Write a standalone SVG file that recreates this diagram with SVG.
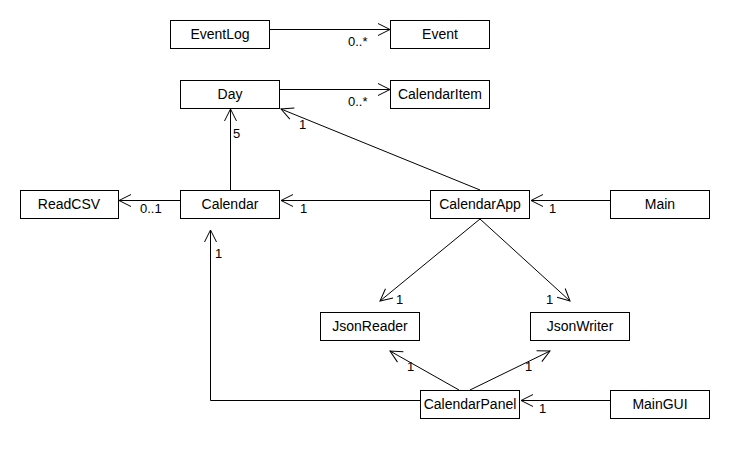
<svg xmlns="http://www.w3.org/2000/svg" width="730" height="450" viewBox="0 0 730 450">
<style>
.box{fill:#fff;stroke:#000;stroke-width:1}
.name{font-family:"Liberation Sans",Arial,sans-serif;font-size:14px;text-anchor:middle;fill:#000}
.lbl{font-family:"Liberation Sans",Arial,sans-serif;font-size:13px;fill:#000}
.edge{fill:none;stroke:#000;stroke-width:1;marker-end:url(#open)}
</style>
<defs>
<marker id="open" markerUnits="userSpaceOnUse" markerWidth="16" markerHeight="16" viewBox="-14 -8 16 16" refX="0" refY="0" orient="auto">
<path d="M-12,-6 L0,0 L-12,6" fill="none" stroke="#000" stroke-width="1"/>
</marker>
</defs>
<rect width="730" height="450" fill="#fff"/>
<g id="connectors">
<path class="edge" d="M270,29.5 L390,29.5"/>
<path class="edge" d="M280,89.5 L390,89.5"/>
<path class="edge" d="M230.5,190 L230.5,109"/>
<path class="edge" d="M480,190 L281,109"/>
<path class="edge" d="M430,200.5 L281,200.5"/>
<path class="edge" d="M610,200.5 L531,200.5"/>
<path class="edge" d="M180,200.5 L119,200.5"/>
<path class="edge" d="M480,219 L380,301"/>
<path class="edge" d="M480,219 L570,301"/>
<path class="edge" d="M459,390 L390,351"/>
<path class="edge" d="M470,390 L550,351"/>
<path class="edge" d="M610,400.5 L521,400.5"/>
<path class="edge" d="M420,400.5 L210.5,400.5 L210.5,230"/>
<text class="lbl" x="348" y="46">0..*</text>
<text class="lbl" x="348" y="106">0..*</text>
<text class="lbl" x="233" y="138">5</text>
<text class="lbl" x="299" y="129">1</text>
<text class="lbl" x="300" y="213">1</text>
<text class="lbl" x="549" y="213">1</text>
<text class="lbl" x="140" y="213">0..1</text>
<text class="lbl" x="215" y="258">1</text>
<text class="lbl" x="396" y="304">1</text>
<text class="lbl" x="546" y="304">1</text>
<text class="lbl" x="407" y="371">1</text>
<text class="lbl" x="525" y="371">1</text>
<text class="lbl" x="539" y="413">1</text>
</g>
<g id="EventLog"><rect class="box" x="170.5" y="20.5" width="99" height="28"/><text class="name" x="220" y="39">EventLog</text></g>
<g id="Event"><rect class="box" x="390.5" y="20.5" width="99" height="28"/><text class="name" x="440" y="39">Event</text></g>
<g id="Day"><rect class="box" x="180.5" y="80.5" width="99" height="28"/><text class="name" x="230" y="99">Day</text></g>
<g id="CalendarItem"><rect class="box" x="390.5" y="80.5" width="99" height="28"/><text class="name" x="440" y="99">CalendarItem</text></g>
<g id="ReadCSV"><rect class="box" x="20.5" y="190.5" width="98" height="28"/><text class="name" x="69" y="209">ReadCSV</text></g>
<g id="Calendar"><rect class="box" x="180.5" y="190.5" width="99" height="28"/><text class="name" x="230" y="209">Calendar</text></g>
<g id="CalendarApp"><rect class="box" x="430.5" y="190.5" width="99" height="28"/><text class="name" x="480" y="209">CalendarApp</text></g>
<g id="Main"><rect class="box" x="610.5" y="190.5" width="99" height="28"/><text class="name" x="660" y="209">Main</text></g>
<g id="JsonReader"><rect class="box" x="320.5" y="312.5" width="99" height="28"/><text class="name" x="370" y="331">JsonReader</text></g>
<g id="JsonWriter"><rect class="box" x="530.5" y="312.5" width="99" height="28"/><text class="name" x="580" y="331">JsonWriter</text></g>
<g id="CalendarPanel"><rect class="box" x="420.5" y="390.5" width="99" height="28"/><text class="name" x="470" y="409">CalendarPanel</text></g>
<g id="MainGUI"><rect class="box" x="610.5" y="390.5" width="99" height="28"/><text class="name" x="660" y="409">MainGUI</text></g>
</svg>
